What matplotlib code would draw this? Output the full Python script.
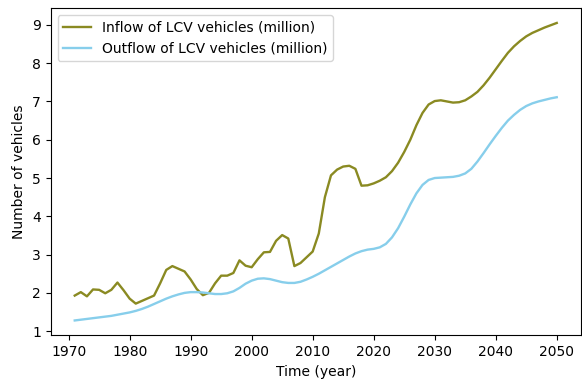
import numpy as np
import matplotlib
matplotlib.use("Agg")
import matplotlib.pyplot as plt

# LCV fleet flows, 1971-2050 (million vehicles)
years = np.arange(1971, 2051)

inflow = [
    1.93, 2.02, 1.91, 2.09, 2.08, 1.99, 2.08, 2.27, 2.07, 1.85,
    1.72, 1.79, 1.86, 1.93, 2.25, 2.60, 2.70, 2.63, 2.56, 2.35,
    2.10, 1.94, 2.00, 2.25, 2.45, 2.45, 2.52, 2.85, 2.71, 2.67,
    2.88, 3.06, 3.07, 3.36, 3.51, 3.42, 2.70, 2.78, 2.93, 3.08,
    3.55, 4.50, 5.07, 5.22, 5.30, 5.32, 5.24, 4.80, 4.81, 4.86,
    4.93, 5.02, 5.18, 5.40, 5.68, 6.00, 6.38, 6.70, 6.92, 7.01,
    7.03, 7.00, 6.97, 6.98, 7.03, 7.13, 7.25, 7.42, 7.62, 7.84,
    8.06, 8.27, 8.44, 8.58, 8.70, 8.79, 8.86, 8.93, 8.99, 9.05,
]

outflow = [
    1.28, 1.30, 1.32, 1.34, 1.36, 1.38, 1.40, 1.43, 1.46, 1.49,
    1.53, 1.58, 1.64, 1.71, 1.78, 1.85, 1.91, 1.96, 2.00, 2.02,
    2.02, 2.01, 1.99, 1.97, 1.97, 1.99, 2.04, 2.13, 2.24, 2.32,
    2.37, 2.38, 2.36, 2.32, 2.28, 2.26, 2.26, 2.29, 2.35, 2.42,
    2.50, 2.59, 2.68, 2.77, 2.86, 2.95, 3.03, 3.09, 3.13, 3.15,
    3.19, 3.28, 3.45, 3.69, 3.99, 4.31, 4.60, 4.82, 4.95, 5.00,
    5.01, 5.02, 5.03, 5.06, 5.12, 5.24, 5.43, 5.65, 5.88, 6.10,
    6.31, 6.50, 6.65, 6.78, 6.88, 6.95, 7.00, 7.04, 7.08, 7.11,
]

fig = plt.figure(figsize=(5.82, 3.85), dpi=100)
ax = fig.add_axes([0.087, 0.129, 0.911, 0.85])

ax.plot(years, inflow, color="#8a8a22", lw=1.7, label="Inflow of LCV vehicles (million)")
ax.plot(years, outflow, color="skyblue", lw=1.7, label="Outflow of LCV vehicles (million)")

ax.set_xlabel("Time (year)")
ax.set_ylabel("Number of vehicles")
ax.set_xticks(np.arange(1970, 2051, 10))
ax.set_yticks(np.arange(1, 10))
ax.legend(loc="upper left")

fig.savefig("out.png", dpi=100)
